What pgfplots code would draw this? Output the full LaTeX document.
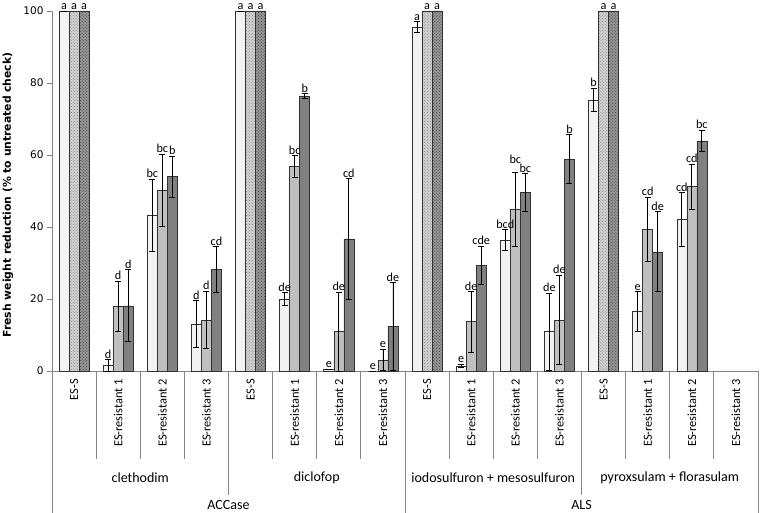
\documentclass[border=0pt]{standalone}
\usepackage{fontspec}
\setmainfont{Carlito}
\newfontfamily\dejavu{DejaVu Sans}
\usepackage{pgfplots}
\pgfplotsset{compat=1.18}
\usepackage{pgfplotstable}
\usetikzlibrary{patterns}

\definecolor{axisgray}{RGB}{134,134,134}
\definecolor{barwhite}{RGB}{242,242,242}
\definecolor{barlight}{RGB}{191,191,191}
\definecolor{bardark}{RGB}{128,128,128}
\definecolor{patlight}{RGB}{210,210,210}
\definecolor{patdark}{RGB}{150,150,150}
\definecolor{edge}{RGB}{50,50,50}

% ES-S bars (positions 0,4,8,12)
\pgfplotstableread{
x y err lbl
0 100 0 a
4 100 0 a
8 95.6 1.5 a
12 75.3 3.3 b
}\essw
\pgfplotstableread{
x y err lbl
0 100 0 a
4 100 0 a
8 100 0 a
12 100 0 a
}\essl
\pgfplotstableread{
x y err lbl
0 100 0 a
4 100 0 a
8 100 0 a
12 100 0 a
}\essd

% resistant populations
\pgfplotstableread{
x y err lbl
1 1.5 1.7 d
2 43.3 10 bc
3 13.1 6.5 d
5 19.9 1.8 de
6 0.5 0 e
7 0 0 e
9 1.4 0.5 e
10 36.4 2.8 bcd
11 10.9 10.7 de
13 16.5 5.5 e
14 42.1 7.4 cd
}\resw
% lift: extra label offset (bp) where labels would collide
\pgfplotstableread{
x y err lbl lift
1 17.9 7 d 0
2 50.3 10 bc 0
3 14.2 8 d 0
5 56.8 3 bc 0
6 10.9 11 de 0
7 3.1 3 e 0
9 13.7 8.4 de 0
10 44.9 10.3 bc 7
11 14.2 12.4 de 0
13 39.4 8.9 cd 0
14 51.2 6.3 cd 0
}\resl
\pgfplotstableread{
x y err lbl
1 18.1 10 d
2 54 5.7 b
3 28.2 6.3 cd
5 76.4 0.6 b
6 36.7 16.7 cd
7 12.3 12.2 de
9 29.4 5.3 cde
10 49.5 5.3 bc
11 58.8 6.8 b
13 33.1 11.1 de
14 63.9 3 bc
}\resd

\newcommand\lblfont{\fontsize{12.2bp}{14bp}\selectfont}
\newcommand\catfont{\fontsize{12.4bp}{14bp}\selectfont}
\newcommand\grpfont{\fontsize{14bp}{16bp}\selectfont}

\pgfplotsset{
  barbase/.style={ybar, bar width=0.227, bar shift=0pt, draw=edge, line width=0.6bp},
  errs/.style={error bars/y dir=both, error bars/y explicit,
    error bars/error bar style={black, line width=0.8bp},
    error bars/error mark options={rotate=90, black, mark size=3bp, line width=0.8bp}},
  lbls/.style={nodes near coords, point meta=explicit symbolic,
    visualization depends on={\thisrow{err} \as \err},
    every node near coord/.append style={font=\lblfont, inner sep=1bp,
      anchor=south, yshift=\err*3.6135}},
  lblslift/.style={nodes near coords, point meta=explicit symbolic,
    visualization depends on={\thisrow{err} \as \err},
    visualization depends on={\thisrow{lift} \as \lift},
    every node near coord/.append style={font=\lblfont, inner sep=1bp,
      anchor=south, yshift=\err*3.6135+\lift}},
}

\begin{document}
\begin{tikzpicture}
\begin{axis}[
  name=ax, scale only axis, width=706bp, height=360bp,
  xmin=-0.5, xmax=15.5, ymin=0, ymax=100,
  axis x line*=bottom, axis y line*=left,
  axis line style={axisgray, line width=0.8bp},
  xtick=\empty, ytick={0,20,...,100},
  tick align=outside, major tick length=5bp,
  tick style={axisgray, line width=0.8bp},
  yticklabel style={font=\dejavu\fontsize{10.5bp}{12bp}\selectfont,
    /pgf/number format/assume math mode=true},
  clip=false,
]
\addplot[barbase, fill=barwhite, errs, lbls]
  table[x expr=\thisrow{x}-0.227, y=y, y error=err, meta=lbl] {\essw};
\addplot[barbase, fill=patlight,
  postaction={pattern=crosshatch dots, pattern color=gray}, lbls]
  table[x=x, y=y, meta=lbl] {\essl};
\addplot[barbase, fill=patdark,
  postaction={pattern=crosshatch dots, pattern color=black!75}, lbls]
  table[x expr=\thisrow{x}+0.227, y=y, meta=lbl] {\essd};
\addplot[barbase, fill=barwhite, errs, lbls]
  table[x expr=\thisrow{x}-0.227, y=y, y error=err, meta=lbl] {\resw};
\addplot[barbase, fill=barlight, errs, lblslift]
  table[x=x, y=y, y error=err, meta=lbl] {\resl};
\addplot[barbase, fill=bardark, errs, lbls]
  table[x expr=\thisrow{x}+0.227, y=y, y error=err, meta=lbl] {\resd};
\end{axis}

\begin{scope}[shift={(ax.south west)}, x=1bp, y=1bp]
  % category table below the axis
  \foreach \k in {1,2,3,5,6,7,9,10,11,13,14,15}
    \draw[axisgray, line width=0.8bp] ({\k*44.125},0) -- ++(0,-88);
  \foreach \k in {4,12}
    \draw[axisgray, line width=0.8bp] ({\k*44.125},0) -- ++(0,-124);
  \foreach \k in {0,8,16}
    \draw[axisgray, line width=0.8bp] ({\k*44.125},0) -- ++(0,-142);
  \foreach \k in {0,...,15}{
    \pgfmathtruncatemacro\m{mod(\k,4)}
    \ifnum\m=0 \def\t{ES-S}\else \edef\t{ES-resistant \m}\fi
    \node[rotate=90, anchor=east, inner sep=0pt, font=\catfont]
      at ({(\k+0.5)*44.125},-8) {\t};
  }
  \node[font=\grpfont] at ({2*44.125},-107) {clethodim};
  \node[font=\grpfont] at ({6*44.125},-107) {diclofop};
  \node[font=\grpfont] at ({10*44.125},-107) {iodosulfuron + mesosulfuron};
  \node[font=\grpfont] at ({14*44.125},-107) {pyroxsulam + florasulam};
  \node[font=\grpfont] at ({4*44.125},-134) {ACCase};
  \node[font=\grpfont] at ({12*44.125},-134) {ALS};
  \node[rotate=90, font=\dejavu\bfseries\fontsize{10.8bp}{12bp}\selectfont]
    at (-44,176) {Fresh weight reduction (\% to untreated check)};
  \pgfresetboundingbox
  \path[use as bounding box] (-52,-142) rectangle (708,371);
\end{scope}
\end{tikzpicture}
\end{document}
